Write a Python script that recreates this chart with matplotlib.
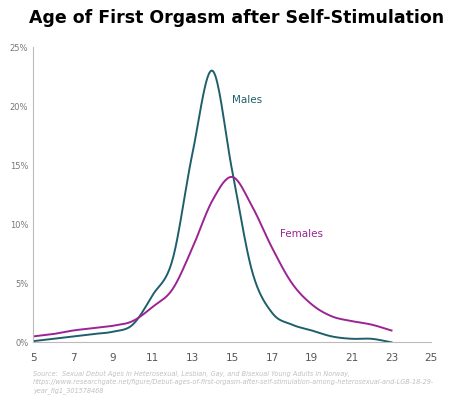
import numpy as np
import matplotlib
matplotlib.use("Agg")
import matplotlib.pyplot as plt

ages = [5, 6, 7, 8, 9, 10, 11, 12, 13, 14, 15, 16, 17, 18, 19, 20, 21, 22, 23]
males = [0.1, 0.3, 0.5, 0.7, 0.9, 1.5, 4.0, 7.0, 16.0, 23.0, 14.5, 6.0, 2.5, 1.5, 1.0, 0.5, 0.3, 0.3, 0.0]
females = [0.5, 0.7, 1.0, 1.2, 1.4, 1.8, 3.0, 4.5, 8.0, 12.0, 14.0, 11.5, 8.0, 5.0, 3.2, 2.2, 1.8, 1.5, 1.0]
xticks = [5, 7, 9, 11, 13, 15, 17, 19, 21, 23, 25]
yticks = [0, 5, 10, 15, 20, 25]

def smooth(x, y, n=20):
    x = np.asarray(x, float); y = np.asarray(y, float)
    m = np.gradient(y, x)
    xs, ys = [], []
    for i in range(len(x) - 1):
        h = x[i+1] - x[i]
        t = np.linspace(0, 1, n, endpoint=False)
        h00 = 2*t**3 - 3*t**2 + 1; h10 = t**3 - 2*t**2 + t
        h01 = -2*t**3 + 3*t**2; h11 = t**3 - t**2
        xs.append(x[i] + t*h)
        ys.append(h00*y[i] + h10*h*m[i] + h01*y[i+1] + h11*h*m[i+1])
    xs.append([x[-1]]); ys.append([y[-1]])
    return np.concatenate(xs), np.clip(np.concatenate(ys), 0, None)

fig = plt.figure(figsize=(4.74, 4.09), dpi=100)
ax = fig.add_axes([0.07, 0.163, 0.84, 0.722])
mc, fc = "#1f5f6b", "#9b2394"
ax.plot(*smooth(ages, males), color=mc, lw=1.4)
ax.plot(*smooth(ages, females), color=fc, lw=1.4)
ax.text(15.0, 20.3, "Males", color=mc, fontsize=7.5)
ax.text(17.4, 8.9, "Females", color=fc, fontsize=7.5)
ax.set_xlim(5, 25); ax.set_ylim(0, 25)
ax.set_xticks(xticks); ax.set_yticks(yticks)
ax.set_yticklabels([f"{v}%" for v in yticks])
for s in ["top", "right"]:
    ax.spines[s].set_visible(False)
ax.spines["left"].set_color("#bbbbbb"); ax.spines["bottom"].set_color("#bbbbbb")
ax.tick_params(axis="x", length=0, labelsize=7.5, colors="#555555", pad=8)
ax.tick_params(axis="y", length=0, labelsize=6, colors="#777777")
fig.text(0.5, 0.955, "Age of First Orgasm after Self-Stimulation", ha="center", va="center",
         fontsize=12.5, fontweight="bold")
fig.text(0.07, 0.065, "Source:  Sexual Debut Ages in Heterosexual, Lesbian, Gay, and Bisexual Young Adults in Norway,\n"
         "https://www.researchgate.net/figure/Debut-ages-of-first-orgasm-after-self-stimulation-among-heterosexual-and-LGB-18-29-\n"
         "year_fig1_301578468", fontsize=4.7, style="italic", color="#c0c0c0", va="center", linespacing=1.4)
fig.savefig("out.png", dpi=100)
